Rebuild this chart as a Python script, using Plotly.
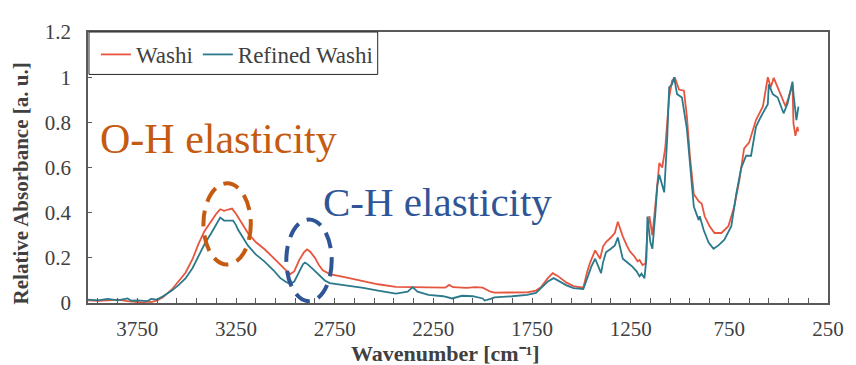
import plotly.graph_objects as go

# ---- data ----
wn_washi = [4000, 3950, 3900, 3850, 3800, 3750, 3720, 3700, 3680, 3650, 3620, 3575, 3540, 3505, 3470,
            3440, 3410, 3375, 3350, 3330, 3310, 3290, 3270, 3250, 3240, 3215, 3190, 3150, 3105, 3060,
            3025, 3000, 2975, 2955, 2930, 2905, 2890, 2875, 2850, 2830, 2810, 2775, 2700, 2605, 2530,
            2440, 2350, 2250, 2190, 2170, 2150, 2080, 2040, 2000, 1960, 1940, 1850, 1775, 1730, 1705,
            1670, 1645, 1620, 1575, 1540, 1525, 1500, 1490, 1470, 1455, 1430, 1415, 1405, 1390, 1375,
            1350, 1330, 1315, 1305, 1290, 1270, 1255, 1230, 1215, 1205, 1190, 1175, 1165, 1155, 1140,
            1125, 1105, 1090, 1075, 1055, 1040, 1025, 1005, 980, 965, 950, 930, 905, 890, 875,
            850, 825, 790, 755, 725, 700, 675, 650, 615, 580, 555, 540, 525, 505, 490,
            465, 450, 430, 425, 415, 405, 400]
abs_washi = [0.012, 0.010, 0.012, 0.015, 0.008, 0.004, 0.002, 0.006, 0.004, 0.012, 0.025, 0.060, 0.095, 0.135, 0.195,
             0.262, 0.318, 0.365, 0.395, 0.415, 0.408, 0.414, 0.418, 0.395, 0.380, 0.345, 0.310, 0.270, 0.238, 0.200,
             0.168, 0.148, 0.128, 0.140, 0.190, 0.225, 0.237, 0.228, 0.200, 0.168, 0.145, 0.128, 0.115, 0.097, 0.083,
             0.071, 0.070, 0.069, 0.068, 0.080, 0.070, 0.067, 0.070, 0.068, 0.050, 0.046, 0.047, 0.047, 0.055, 0.070,
             0.110, 0.132, 0.120, 0.090, 0.075, 0.072, 0.070, 0.068, 0.140, 0.180, 0.233, 0.210, 0.196, 0.250, 0.270,
             0.290, 0.311, 0.360, 0.330, 0.295, 0.255, 0.230, 0.205, 0.185, 0.190, 0.168, 0.175, 0.310, 0.385, 0.300,
             0.430, 0.620, 0.600, 0.685, 0.910, 0.985, 0.995, 0.945, 0.940, 0.825, 0.652, 0.482, 0.450, 0.440, 0.384,
             0.340, 0.310, 0.310, 0.340, 0.427, 0.540, 0.685, 0.710, 0.810, 0.870, 1.000, 0.955, 0.997, 0.955, 0.925,
             0.870, 0.910, 0.968, 0.795, 0.740, 0.780, 0.760]

wn_refined = [4000, 3950, 3900, 3850, 3800, 3780, 3750, 3700, 3680, 3650, 3620, 3575, 3540, 3505, 3470,
              3440, 3410, 3375, 3350, 3330, 3310, 3290, 3265, 3250, 3240, 3215, 3190, 3150, 3105, 3060,
              3025, 3000, 2975, 2955, 2930, 2910, 2900, 2885, 2860, 2830, 2800, 2775, 2700, 2605, 2530,
              2440, 2380, 2355, 2330, 2275, 2200, 2155, 2105, 2050, 2000, 1990, 1960, 1940, 1850, 1775,
              1730, 1700, 1670, 1640, 1610, 1575, 1540, 1510, 1490, 1470, 1450, 1430, 1415, 1400, 1390,
              1375, 1350, 1330, 1315, 1300, 1290, 1265, 1240, 1220, 1205, 1195, 1180, 1170, 1165, 1150,
              1140, 1125, 1115, 1105, 1090, 1080, 1065, 1055, 1040, 1030, 1015, 990, 965, 950, 930,
              905, 900, 880, 855, 830, 805, 775, 740, 715, 690, 665, 640, 615, 590, 555,
              550, 530, 505, 475, 455, 430, 425, 410, 400]
abs_refined = [0.015, 0.012, 0.018, 0.012, 0.020, 0.010, 0.012, 0.008, 0.018, 0.015, 0.030, 0.055, 0.080, 0.110, 0.155,
               0.210, 0.260, 0.310, 0.350, 0.378, 0.365, 0.365, 0.365, 0.345, 0.325, 0.290, 0.255, 0.215, 0.183, 0.145,
               0.110, 0.095, 0.083, 0.095, 0.140, 0.172, 0.179, 0.170, 0.150, 0.126, 0.100, 0.088, 0.080, 0.067, 0.055,
               0.042, 0.050, 0.070, 0.050, 0.036, 0.030, 0.020, 0.032, 0.030, 0.020, 0.011, 0.018, 0.025, 0.030, 0.036,
               0.045, 0.070, 0.095, 0.110, 0.095, 0.078, 0.066, 0.064, 0.062, 0.110, 0.160, 0.196, 0.160, 0.132, 0.180,
               0.225, 0.240, 0.255, 0.290, 0.240, 0.196, 0.178, 0.160, 0.140, 0.118, 0.130, 0.110, 0.200, 0.383, 0.268,
               0.240, 0.396, 0.520, 0.568, 0.515, 0.490, 0.727, 0.955, 0.968, 1.000, 0.925, 0.910, 0.770, 0.612, 0.427,
               0.367, 0.384, 0.323, 0.268, 0.240, 0.255, 0.280, 0.340, 0.483, 0.597, 0.652, 0.652, 0.780, 0.825, 0.880,
               0.968, 0.925, 0.910, 0.840, 0.883, 0.980, 0.925, 0.810, 0.870]

series_names = ["Washi", "Refined Washi"]
x_tick_vals = [3750, 3250, 2750, 2250, 1750, 1250, 750, 250]
y_tick_vals = [0, 0.2, 0.4, 0.6, 0.8, 1.0, 1.2]

# annotation regions (wavenumber / absorbance extents of the dashed ellipses)
oh_region = dict(x0=3415, x1=3175, y0=0.17, y1=0.53)
ch_region = dict(x0=2995, x1=2765, y0=0.008, y1=0.37)

FONT = "Liberation Serif, Times New Roman, serif"
GREY = "#404040"
RED = "#E8553F"
TEAL = "#2B7A8C"
ORANGE = "#C55A11"
BLUE = "#2F5597"

# page is drawn with an 8px body margin, so the figure is 8px smaller
PL, PR, PT, PB = 88, 839, 22, 303  # plot area in page pixels


def px(xp):
    return (xp - PL) / (PR - PL)


def py(yp):
    return (PB - yp) / (PB - PT)


fig = go.Figure()
fig.add_trace(go.Scatter(x=wn_washi, y=abs_washi, mode="lines", name=series_names[0],
                         line=dict(color=RED, width=1.8)))
fig.add_trace(go.Scatter(x=wn_refined, y=abs_refined, mode="lines", name=series_names[1],
                         line=dict(color=TEAL, width=1.8)))

# legend frame
fig.add_shape(type="rect", xref="paper", yref="paper", x0=px(89), x1=px(382), y0=py(66), y1=1,
              line=dict(color="#262626", width=1), fillcolor="white", layer="above")

fig.add_shape(type="circle", xref="x", yref="y", **oh_region,
              line=dict(color=ORANGE, width=4, dash="16px,9px"))
fig.add_shape(type="circle", xref="x", yref="y", **ch_region,
              line=dict(color=BLUE, width=4, dash="16px,9px"))

fig.add_annotation(text="O-H elasticity", xref="paper", yref="paper",
                   x=px(220), y=py(133), xanchor="center", yanchor="middle",
                   showarrow=False, font=dict(family=FONT, size=42, color=ORANGE))
fig.add_annotation(text="C-H elasticity", xref="paper", yref="paper",
                   x=px(443), y=py(198), xanchor="center", yanchor="middle",
                   showarrow=False, font=dict(family=FONT, size=41, color=BLUE))

# axis titles
fig.add_annotation(text="<b>Wavenumber [cm⁻¹]</b>", xref="paper", yref="paper",
                   x=px(451), y=py(355), xanchor="center", yanchor="middle",
                   showarrow=False, font=dict(family=FONT, size=22, color=GREY))
fig.add_annotation(text="<b>Relative Absorbance [a. u.]</b>", xref="paper", yref="paper",
                   x=px(20), y=py(179), xanchor="center", yanchor="middle",
                   textangle=-90, showarrow=False, font=dict(family=FONT, size=21, color=GREY))

fig.update_layout(
    width=848, height=357,
    margin=dict(l=PL - 8, r=856 - PR, t=PT - 8, b=365 - PB),
    paper_bgcolor="white", plot_bgcolor="white",
    font=dict(family=FONT, size=21, color=GREY),
    showlegend=True,
    legend=dict(orientation="h", x=px(96), y=py(23), xanchor="left", yanchor="top",
                borderwidth=0, bgcolor="rgba(0,0,0,0)",
                font=dict(family=FONT, size=23, color=GREY),
                itemwidth=30, tracegroupgap=0),
)
fig.update_xaxes(range=[4000, 250], tickvals=x_tick_vals, ticks="inside", ticklen=5,
                 tickcolor="#595959", showline=True, linecolor="#595959", linewidth=1.5,
                 mirror=True, showgrid=False, zeroline=False, ticklabelstandoff=6,
                 minor=dict(dtick=100, tick0=250, ticks="inside", ticklen=5, tickcolor="#595959"),
                 tickfont=dict(family=FONT, size=21, color=GREY))
fig.update_yaxes(range=[0, 1.2], tickvals=y_tick_vals, ticks="inside", ticklen=4,
                 tickcolor="#595959", showline=True, linecolor="#595959", linewidth=1.5,
                 mirror=True, showgrid=False, zeroline=False, ticklabelstandoff=11,
                 tickfont=dict(family=FONT, size=21, color=GREY))

fig.write_html("out.html")
